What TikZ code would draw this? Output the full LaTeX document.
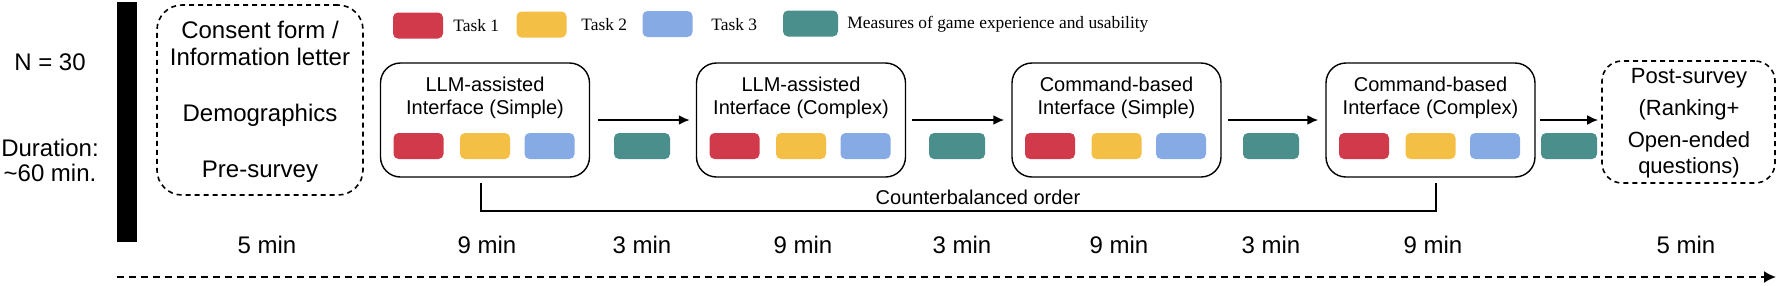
\documentclass[tikz,border=0pt]{standalone}
\usepackage{fontspec}
\setmainfont{Liberation Sans}
\newfontfamily\legfont{Liberation Serif}
\usetikzlibrary{arrows.meta}
\definecolor{cred}{RGB}{208,58,75}
\definecolor{cyel}{RGB}{244,191,69}
\definecolor{cblu}{RGB}{134,170,228}
\definecolor{ctea}{RGB}{74,143,140}
\tikzset{
  chip/.style={rounded corners=2.5pt, minimum width=25pt, minimum height=13pt, inner sep=0pt},
  mchip/.style={chip, fill=ctea, minimum width=28pt},
  ibox/.style={draw, line width=0.7pt, rounded corners=10pt, minimum width=104.5pt, minimum height=57pt, inner sep=0pt},
  dbox/.style={draw, line width=0.8pt, dash pattern=on 2.5pt off 2pt, inner sep=0pt},
  ititle/.style={font=\fontsize{10}{11.5}\selectfont, align=center, inner sep=0pt},
  big/.style={font=\fontsize{12}{12.5}\selectfont, align=center, inner sep=0pt},
  leg/.style={font=\legfont\fontsize{8.7}{10}\selectfont, anchor=west, inner sep=0pt},
  arr/.style={line width=1pt, -{Latex[length=5.5pt,width=5pt]}},
}
\begin{document}
\begin{tikzpicture}[x=0.5pt,y=-0.5pt]
\useasboundingbox (0,0) rectangle (1778,285);

% left info
\node[big] (n) at (50,62) {N = 30};
\node[big] (dur) at (50,160) {Duration:\\\textasciitilde60 min.};
\node[fill=black, minimum width=10pt, minimum height=120pt, inner sep=0pt] (bar) at (127,122) {};

% pre box
\node[dbox, rounded corners=12.5pt, minimum width=103pt, minimum height=95pt] (pre) at (260,100) {};
\node[big] (pre1) at (260,43.5) {Consent form /\\[1pt]Information letter};
\node[big] (pre2) at (260,115) {Demographics};
\node[big] (pre3) at (260,172) {Pre-survey};

% legend
\node[chip, fill=cred] (l1) at (418,25.5) {};
\node[leg] (lt1) at (453,26) {Task 1};
\node[chip, fill=cyel] (l2) at (541.5,24.5) {};
\node[leg] (lt2) at (581,25) {Task 2};
\node[chip, fill=cblu] (l3) at (667.5,24) {};
\node[leg] (lt3) at (711,25) {Task 3};
\node[mchip, minimum width=27.5pt] (l4) at (810.5,23.5) {};
\node[leg] (lt4) at (847,24) {Measures of game experience and usability};

% interface boxes
\foreach \nm/\cx/\ttl in {b1/485/{LLM-assisted\\Interface (Simple)},
                          b2/801/{LLM-assisted\\Interface (Complex)},
                          b3/1116.5/{Command-based\\Interface (Simple)},
                          b4/1430.5/{Command-based\\Interface (Complex)}}{
  \node[ibox] (\nm) at (\cx,120) {};
  \node[ititle] (\nm t) at (\cx,97.5) {\ttl};
  \node[chip, fill=cred] (\nm r) at (\cx-66.5,146) {};
  \node[chip, fill=cyel] (\nm y) at (\cx,146) {};
  \node[chip, fill=cblu] (\nm u) at (\cx+64.5,146) {};
}

% measure chips
\node[mchip] (m1) at (642,146) {};
\node[mchip] (m2) at (957,146) {};
\node[mchip] (m3) at (1271,146) {};
\node[mchip] (m4) at (1569,146) {};

% post box
\node[dbox, rounded corners=10pt, minimum width=86.5pt, minimum height=61pt] (post) at (1688.5,122) {};
\node[font=\fontsize{11}{16}\selectfont, align=center, inner sep=0pt] (postt) at (1689,123) {Post-survey\\(Ranking+\\Open-ended\\[-3pt]questions)};

% arrows
\draw[arr, shorten <=4pt, shorten >=3pt] (b1.east) -- (b2.west);
\draw[arr, shorten <=3pt, shorten >=3.5pt] (b2.east) -- (b3.west);
\draw[arr, shorten <=3pt, shorten >=3.5pt] (b3.east) -- (b4.west);
\draw[arr, shorten <=2pt, shorten >=1.5pt] (b4.east) -- (b4.east -| post.west);

% counterbalanced bracket
\coordinate (cbl) at (481,183);
\coordinate (cbr) at (1436,183);
\draw[line width=0.75pt] (cbl) -- ++(0,28) -| (cbr);
\node[ititle] (cbt) at (978,197) {Counterbalanced order};

% times
\foreach \nm/\tx/\tt in {t0/267/5, t1/487/9, t2/642/3, t3/803/9, t4/962/3, t5/1119/9, t6/1271/3, t7/1433/9, t8/1686/5}{
  \node[big] (\nm) at (\tx,245) {\tt{} min};
}

% timeline
\coordinate (ts) at (117,277);
\coordinate (te) at (1776,277);
\draw[line width=1pt, dash pattern=on 3.5pt off 2.5pt, -{Latex[length=6pt,width=6pt]}] (ts) -- (te);
\end{tikzpicture}
\end{document}
